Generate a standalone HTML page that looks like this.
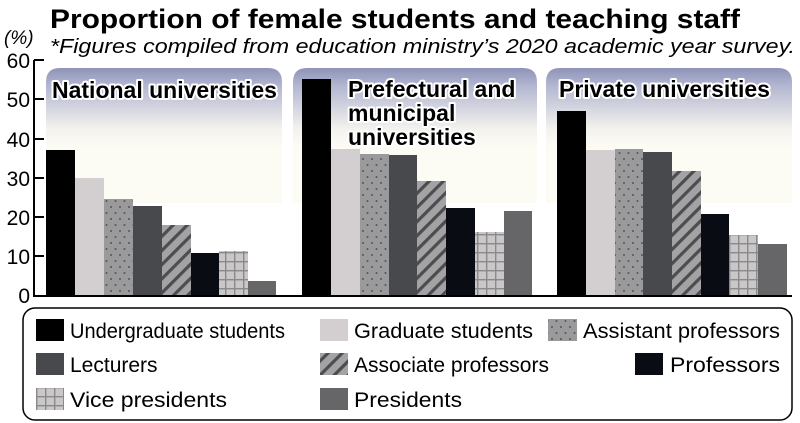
<!DOCTYPE html>
<html><head><meta charset="utf-8"><style>
html,body{margin:0;padding:0;background:#fff;}
svg{display:block;font-family:"Liberation Sans",sans-serif;}
</style></head><body>
<svg width="800" height="423" viewBox="0 0 800 423" xmlns="http://www.w3.org/2000/svg">
<defs>
<linearGradient id="bg" x1="0" y1="0" x2="0" y2="1">
<stop offset="0" stop-color="#8e93b8"/>
<stop offset="0.12" stop-color="#b0b4cf"/>
<stop offset="0.45" stop-color="#f3f2ee"/>
<stop offset="0.6" stop-color="#fdfcf4"/>
<stop offset="1" stop-color="#fdfcf4"/>
</linearGradient>
<pattern id="dots" width="9" height="12" patternUnits="userSpaceOnUse">
<rect width="9" height="12" fill="#9a9a9c"/>
<circle cx="3" cy="3" r="1" fill="#555"/>
<circle cx="7.5" cy="9" r="1" fill="#555"/>
</pattern>
<pattern id="hatch" width="10" height="10" patternUnits="userSpaceOnUse" patternTransform="rotate(45)">
<rect width="10" height="10" fill="#a3a3a5"/>
<rect x="0" width="3.2" height="10" fill="#4d4d50"/>
</pattern>
<pattern id="grid" width="9" height="9" patternUnits="userSpaceOnUse">
<rect width="9" height="9" fill="#c9c7c8"/>
<rect x="0" width="1.4" height="9" fill="#8b898b"/>
<rect y="0" width="9" height="1.4" fill="#8b898b"/>
</pattern>
</defs>

<text x="50" y="28" font-size="27" font-weight="bold" textLength="690" lengthAdjust="spacingAndGlyphs">Proportion of female students and teaching staff</text>
<text x="50" y="53" font-size="20" font-style="italic" textLength="745" lengthAdjust="spacingAndGlyphs">*Figures compiled from education ministry’s 2020 academic year survey.</text>
<text x="4" y="44" font-size="19" font-style="italic">(%)</text>

<!-- panels -->
<path d="M46,203 V82 Q46,68 60,68 H268 Q282,68 282,82 V203 Z" fill="url(#bg)"/>
<path d="M293,203 V82 Q293,68 307,68 H523 Q537,68 537,82 V203 Z" fill="url(#bg)"/>
<path d="M546,203 V82 Q546,68 560,68 H778 Q792,68 792,82 V203 Z" fill="url(#bg)"/>

<g font-weight="bold" font-size="23" fill="#000" stroke="#fff" stroke-width="4" paint-order="stroke" stroke-linejoin="round">
<text x="52" y="98">National universities</text>
<text x="348" y="97">Prefectural and</text>
<text x="348" y="121">municipal</text>
<text x="348" y="145">universities</text>
<text x="559" y="97">Private universities</text>
</g>

<!-- axis -->
<g stroke="#000" stroke-width="2" fill="none">
<line x1="34" y1="60" x2="34" y2="296"/>
<line x1="33" y1="296" x2="792" y2="296"/>
<line x1="34" y1="60" x2="44" y2="60"/>
<line x1="34" y1="99" x2="44" y2="99"/>
<line x1="34" y1="139" x2="44" y2="139"/>
<line x1="34" y1="178" x2="44" y2="178"/>
<line x1="34" y1="217" x2="44" y2="217"/>
<line x1="34" y1="256" x2="44" y2="256"/>
</g>
<g font-size="21" text-anchor="end">
<text x="30" y="68">60</text>
<text x="30" y="107">50</text>
<text x="30" y="147">40</text>
<text x="30" y="186">30</text>
<text x="30" y="225">20</text>
<text x="30" y="264">10</text>
<text x="30" y="303">0</text>
</g>

<g>
<rect x="46" y="150" width="29" height="145" fill="#000"/>
<rect x="75" y="178" width="29" height="117" fill="#d3cfd0"/>
<rect x="104" y="199" width="29" height="96" fill="url(#dots)"/>
<rect x="133" y="206" width="29" height="89" fill="#48494d"/>
<rect x="162" y="225" width="29" height="70" fill="url(#hatch)"/>
<rect x="191" y="253" width="28" height="42" fill="#0a0c14"/>
<rect x="219" y="251" width="29" height="44" fill="url(#grid)"/>
<rect x="248" y="281" width="28" height="14" fill="#666668"/>
</g>
<g>
<rect x="302" y="79" width="29" height="216" fill="#000"/>
<rect x="331" y="149" width="29" height="146" fill="#d3cfd0"/>
<rect x="360" y="154" width="29" height="141" fill="url(#dots)"/>
<rect x="389" y="155" width="28" height="140" fill="#48494d"/>
<rect x="417" y="181" width="29" height="114" fill="url(#hatch)"/>
<rect x="446" y="208" width="29" height="87" fill="#0a0c14"/>
<rect x="475" y="232" width="29" height="63" fill="url(#grid)"/>
<rect x="504" y="211" width="28" height="84" fill="#666668"/>
</g>
<g>
<rect x="557" y="111" width="29" height="184" fill="#000"/>
<rect x="586" y="150" width="29" height="145" fill="#d3cfd0"/>
<rect x="615" y="149" width="28" height="146" fill="url(#dots)"/>
<rect x="643" y="152" width="29" height="143" fill="#48494d"/>
<rect x="672" y="171" width="29" height="124" fill="url(#hatch)"/>
<rect x="701" y="214" width="28" height="81" fill="#0a0c14"/>
<rect x="729" y="235" width="29" height="60" fill="url(#grid)"/>
<rect x="758" y="244" width="29" height="51" fill="#666668"/>
</g>

<rect x="23" y="308" width="769" height="112" rx="12" fill="#fff" stroke="#000" stroke-width="1.5"/>
<g font-size="21">
<rect x="36" y="319" width="28" height="22" fill="#000"/>
<text x="70" y="338" textLength="215" lengthAdjust="spacingAndGlyphs">Undergraduate students</text>
<rect x="320" y="319" width="28" height="22" fill="#d3cfd0"/>
<text x="354" y="338" textLength="179" lengthAdjust="spacingAndGlyphs">Graduate students</text>
<rect x="548" y="319" width="29" height="22" fill="url(#dots)"/>
<text x="583" y="338" textLength="197" lengthAdjust="spacingAndGlyphs">Assistant professors</text>

<rect x="36" y="353" width="28" height="22" fill="#48494d"/>
<text x="70" y="372">Lecturers</text>
<rect x="320" y="353" width="28" height="22" fill="url(#hatch)"/>
<text x="354" y="372" textLength="195" lengthAdjust="spacingAndGlyphs">Associate professors</text>
<rect x="635" y="353" width="28" height="22" fill="#0a0c14"/>
<text x="670" y="372" textLength="110" lengthAdjust="spacingAndGlyphs">Professors</text>

<rect x="36" y="388" width="28" height="22" fill="url(#grid)"/>
<text x="70" y="407" textLength="157" lengthAdjust="spacingAndGlyphs">Vice presidents</text>
<rect x="320" y="388" width="28" height="22" fill="#666668"/>
<text x="354" y="407" textLength="108" lengthAdjust="spacingAndGlyphs">Presidents</text>
</g>
</svg>
</body></html>
